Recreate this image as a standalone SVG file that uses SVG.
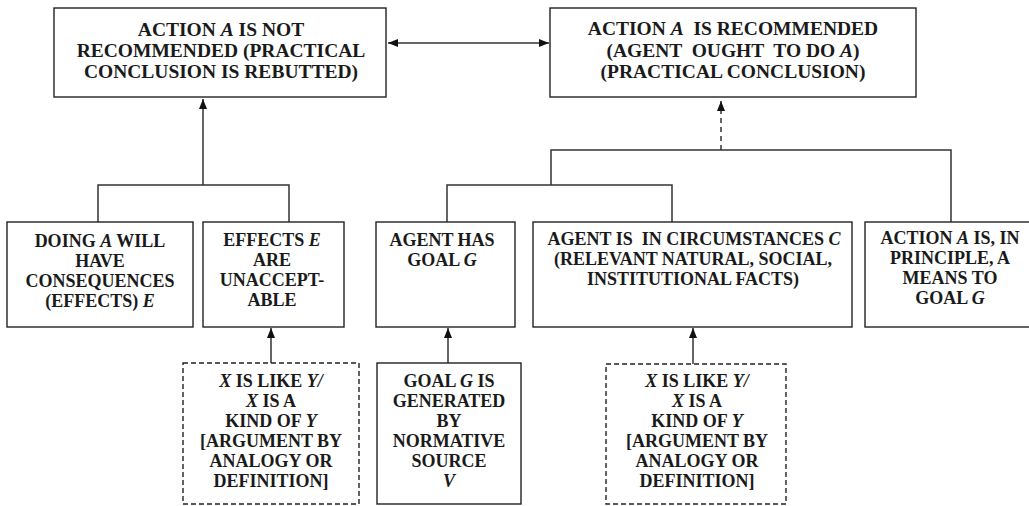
<svg xmlns="http://www.w3.org/2000/svg" width="1029" height="506" viewBox="0 0 1029 506" font-family="'Liberation Serif', 'Times New Roman', serif">
<style>
.box{fill:#fff;stroke:#222;stroke-width:1.4}
.dbox{fill:#fff;stroke:#222;stroke-width:1.4;stroke-dasharray:5 3}
.ln{fill:none;stroke:#333;stroke-width:1.5}
.dln{fill:none;stroke:#333;stroke-width:1.5;stroke-dasharray:5 4}
text{font-size:18px;font-weight:bold;fill:#1a1a1a;text-anchor:middle}
.big{font-size:19.5px}
.i{font-style:italic}
</style>
<defs>
<marker id="ah" viewBox="0 0 10 8" refX="10" refY="4" markerWidth="10" markerHeight="8" orient="auto-start-reverse" markerUnits="userSpaceOnUse"><path d="M0,0 L10,4 L0,8 z" fill="#111"/></marker>
</defs>
<rect width="1029" height="506" fill="#fff"/>
<g id="connectors">
<line class="ln" x1="388" y1="43" x2="549" y2="43" marker-start="url(#ah)" marker-end="url(#ah)"/>
<path class="ln" d="M98,222 V185 H289 V222"/>
<line class="ln" x1="203" y1="185" x2="203" y2="99" marker-end="url(#ah)"/>
<path class="ln" d="M551,185 V150 H951 V222"/>
<path class="ln" d="M447,222 V185 H672 V222"/>
<line class="dln" x1="721" y1="150" x2="721" y2="101" marker-end="url(#ah)"/>
<line class="ln" x1="271" y1="363" x2="271" y2="328" marker-end="url(#ah)"/>
<line class="ln" x1="448" y1="363" x2="448" y2="328" marker-end="url(#ah)"/>
<line class="ln" x1="693" y1="364" x2="693" y2="328" marker-end="url(#ah)"/>
</g>
<g id="not-recommended">
<rect class="box" x="54" y="8" width="332" height="89"/>
<text class="big" x="221" y="36">ACTION <tspan class="i">A</tspan> IS NOT</text>
<text class="big" x="221" y="57">RECOMMENDED (PRACTICAL</text>
<text class="big" x="221" y="78">CONCLUSION IS REBUTTED)</text>
</g>
<g id="recommended">
<rect class="box" x="550" y="8" width="366" height="89"/>
<text class="big" x="733" y="35" xml:space="preserve">ACTION <tspan class="i">A</tspan>  IS RECOMMENDED</text>
<text class="big" x="733" y="57" xml:space="preserve">(AGENT  OUGHT  TO DO <tspan class="i">A</tspan>)</text>
<text class="big" x="733" y="78">(PRACTICAL CONCLUSION)</text>
</g>
<g id="doing-a">
<rect class="box" x="7" y="222" width="186" height="105"/>
<text x="100" y="247">DOING <tspan class="i">A</tspan> WILL</text>
<text x="100" y="267">HAVE</text>
<text x="100" y="287">CONSEQUENCES</text>
<text x="100" y="307">(EFFECTS) <tspan class="i">E</tspan></text>
</g>
<g id="effects">
<rect class="box" x="203" y="222" width="141" height="105"/>
<text x="272" y="246">EFFECTS <tspan class="i">E</tspan></text>
<text x="272" y="266">ARE</text>
<text x="272" y="286">UNACCEPT-</text>
<text x="272" y="306">ABLE</text>
</g>
<g id="goal">
<rect class="box" x="376" y="222" width="139" height="105"/>
<text x="442" y="246">AGENT HAS</text>
<text x="442" y="266">GOAL <tspan class="i">G</tspan></text>
</g>
<g id="circumstances">
<rect class="box" x="533" y="222" width="319" height="105"/>
<text x="694" y="245" xml:space="preserve">AGENT IS  IN CIRCUMSTANCES <tspan class="i">C</tspan></text>
<text x="693" y="265">(RELEVANT NATURAL, SOCIAL,</text>
<text x="693" y="285">INSTITUTIONAL FACTS)</text>
</g>
<g id="means">
<rect class="box" x="865" y="222" width="172" height="105"/>
<text x="950" y="244">ACTION <tspan class="i">A</tspan> IS, IN</text>
<text x="950" y="264">PRINCIPLE, A</text>
<text x="950" y="284">MEANS TO</text>
<text x="950" y="304">GOAL <tspan class="i">G</tspan></text>
</g>
<g id="analogy-1">
<rect class="dbox" x="183" y="363" width="176" height="141"/>
<text x="271" y="387"><tspan class="i">X</tspan> IS LIKE <tspan class="i">Y/</tspan></text>
<text x="271" y="407"><tspan class="i">X</tspan> IS A</text>
<text x="271" y="427">KIND OF <tspan class="i">Y</tspan></text>
<text x="271" y="447">[ARGUMENT BY</text>
<text x="271" y="467">ANALOGY OR</text>
<text x="271" y="487">DEFINITION]</text>
</g>
<g id="normative-source">
<rect class="box" x="377" y="363" width="144" height="141"/>
<text x="449" y="387">GOAL <tspan class="i">G</tspan> IS</text>
<text x="449" y="407">GENERATED</text>
<text x="449" y="427">BY</text>
<text x="449" y="447">NORMATIVE</text>
<text x="449" y="467">SOURCE</text>
<text x="449" y="487" class="i">V</text>
</g>
<g id="analogy-2">
<rect class="dbox" x="606" y="364" width="180" height="140"/>
<text x="697" y="387"><tspan class="i">X</tspan> IS LIKE <tspan class="i">Y/</tspan></text>
<text x="697" y="407"><tspan class="i">X</tspan> IS A</text>
<text x="697" y="427">KIND OF <tspan class="i">Y</tspan></text>
<text x="697" y="447">[ARGUMENT BY</text>
<text x="697" y="467">ANALOGY OR</text>
<text x="697" y="487">DEFINITION]</text>
</g>
</svg>
